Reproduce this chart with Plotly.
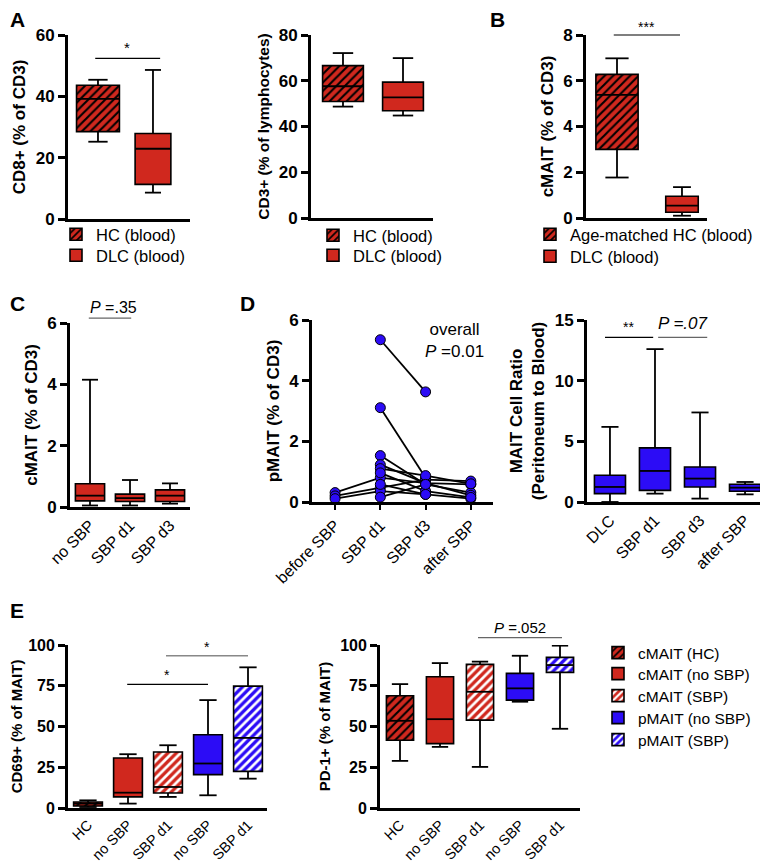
import plotly.graph_objects as go

# the page body keeps its default 8px margin, so the figure is drawn 8px in
# from the top-left corner of the 768x862 window
PAD = 8
W, H = 768 - PAD, 862 - PAD
RED = "#d0281e"
BLUE = "#2c0cf6"
FONT = "Liberation Sans, Arial, Helvetica, sans-serif"

# ---- values ----
# A left: CD8+ (% of CD3)
cd8_names = ["HC (blood)", "DLC (blood)"]
cd8_low = [25.2, 8.6]
cd8_q1 = [28.5, 11.3]
cd8_med = [39.2, 22.9]
cd8_q3 = [43.6, 27.9]
cd8_high = [45.4, 48.6]

# A right: CD3+ (% of lymphocytes)
cd3_names = ["HC (blood)", "DLC (blood)"]
cd3_low = [48.7, 44.8]
cd3_q1 = [50.9, 46.9]
cd3_med = [57.6, 52.7]
cd3_q3 = [66.6, 59.4]
cd3_high = [72.1, 69.9]

# B: cMAIT (% of CD3)
cm_names = ["Age-matched HC (blood)", "DLC (blood)"]
cm_low = [1.77, 0.1]
cm_q1 = [3.0, 0.25]
cm_med = [5.38, 0.54]
cm_q3 = [6.28, 0.95]
cm_high = [6.98, 1.35]

# C: cMAIT by SBP status
c_cats = ["no SBP", "SBP d1", "SBP d3"]
c_low = [0.05, 0.05, 0.11]
c_q1 = [0.2, 0.18, 0.18]
c_med = [0.37, 0.29, 0.37]
c_q3 = [0.76, 0.42, 0.56]
c_high = [4.15, 0.88, 0.77]

# D left: paired pMAIT per patient (None = no sample)
d_cats = ["before SBP", "SBP d1", "SBP d3", "after SBP"]
pm_before = [None, None, 0.31, 0.2, 0.11, None, None, None, None, None, None]
pm_d1 = [5.35, 3.11, 0.8, 0.48, 0.36, 1.53, 1.23, 1.1, 0.96, 0.58, 0.16]
pm_d3 = [3.63, 0.8, 0.62, 0.74, 0.25, 0.58, 0.62, 0.87, 0.36, 0.25, 0.58]
pm_after = [None, None, 0.58, 0.69, 0.11, 0.31, 0.22, 0.6, 0.15, None, None]

# D right: MAIT cell ratio (peritoneum to blood)
r_cats = ["DLC", "SBP d1", "SBP d3", "after SBP"]
r_low = [0.0, 0.69, 0.28, 0.63]
r_q1 = [0.69, 0.96, 1.24, 0.88]
r_med = [1.24, 2.56, 1.93, 1.18]
r_q3 = [2.2, 4.46, 2.89, 1.46]
r_high = [6.19, 12.6, 7.38, 1.65]

# E: activation markers
e_cats = ["HC", "no SBP", "SBP d1", "no SBP", "SBP d1"]
e_names = ["cMAIT (HC)", "cMAIT (no SBP)", "cMAIT (SBP)", "pMAIT (no SBP)", "pMAIT (SBP)"]
cd69_low = [0.6, 2.7, 6.8, 7.8, 18.0]
cd69_q1 = [1.2, 6.8, 9.2, 20.5, 22.5]
cd69_med = [2.7, 9.4, 12.9, 27.3, 43.0]
cd69_q3 = [3.7, 30.7, 34.4, 44.9, 74.8]
cd69_high = [4.7, 33.0, 38.5, 66.2, 86.3]
pd1_low = [28.9, 37.5, 25.2, 65.2, 48.6]
pd1_q1 = [41.6, 39.5, 53.9, 66.2, 83.2]
pd1_med = [53.5, 54.5, 71.3, 73.4, 87.7]
pd1_q3 = [68.9, 80.5, 88.1, 82.6, 92.4]
pd1_high = [76.0, 88.9, 89.8, 93.4, 99.6]

# fill colour, hatch colour
STYLES = {"dark": (RED, "black"), "red": (RED, None), "light": (RED, "white"),
          "blue": (BLUE, None), "bluelight": (BLUE, "white")}

# subplot frames in window pixels (left, top, right, bottom)
panels = {
    1: dict(box=(68, 35, 190, 219), xr=(-0.545, 1.673), ytop=60, dtick=20,
            title="CD8+ (% of CD3)", tsize=17, fsize=17),
    2: dict(box=(311, 35, 433, 218), xr=(-0.533, 1.5), ytop=80, dtick=20,
            title="CD3+ (% of lymphocytes)", tsize=15.5, fsize=17),
    3: dict(box=(586, 35, 707, 218), xr=(-0.477, 1.385), ytop=8, dtick=2,
            title="cMAIT (% of CD3)", tsize=17, fsize=17),
    4: dict(box=(70, 323, 190, 507), xr=(-0.5, 2.5), ytop=6, dtick=2,
            title="cMAIT (% of CD3)", tsize=17, fsize=17, cats=c_cats, csize=16),
    5: dict(box=(312, 320, 493, 502), xr=(-0.51, 3.49), ytop=6, dtick=2,
            title="pMAIT (% of CD3)", tsize=17, fsize=17, cats=d_cats, csize=16, xticks=True),
    6: dict(box=(587, 320, 768, 502), xr=(-0.51, 3.51), ytop=15, dtick=5,
            title="MAIT Cell Ratio<br>(Peritoneum to Blood)", tsize=17, fsize=17, cats=r_cats, csize=16),
    7: dict(box=(68, 645, 267, 808), xr=(-0.5, 4.475), ytop=100, dtick=25,
            title="CD69+ (% of MAIT)", tsize=15, fsize=16, cats=e_cats, csize=14.5),
    8: dict(box=(380, 645, 580, 808), xr=(-0.5, 4.5), ytop=100, dtick=25,
            title="PD-1+ (% of MAIT)", tsize=15, fsize=16, cats=e_cats, csize=14.5),
}


def fx(px):
    return (px - PAD) / W


def fy(py):
    return 1 - (py - PAD) / H


fig = go.Figure()
legends = {}


def ax(n):
    return ("x", "y") if n == 1 else (f"x{n}", f"y{n}")


def py(n, v):
    # data value -> paper y for subplot n
    l, t, r, b = panels[n]["box"]
    return fy(b - (b - t) * v / panels[n]["ytop"])


def legend_rows(icon_x, rows_y, size):
    # one single-entry legend per row so the row spacing follows the reference
    ids = []
    for y in rows_y:
        k = len(legends) + 1
        lid = "legend" if k == 1 else f"legend{k}"
        legends[lid] = dict(bgcolor="rgba(0,0,0,0)", xanchor="left", yanchor="top",
                            x=fx(icon_x - 18), y=fy(y - 17), itemclick=False,
                            itemdoubleclick=False, font=dict(size=size, family=FONT, color="black"))
        ids.append(lid)
    return ids


def add_boxes(n, low, q1, med, q3, high, styles, widths, cap=0.5, names=None, leg_ids=None):
    xa, ya = ax(n)
    for i in range(len(med)):
        fill, fg = STYLES[styles[i]]
        if fg:
            pat = dict(shape="/", fgcolor=fg, fgopacity=1, fillmode="overlay", size=6,
                       solidity=0.35 if fg == "black" else 0.45)
        else:
            pat = dict(shape="")
        extra = dict(name=names[i], showlegend=True, legend=leg_ids[i]) if names else dict(showlegend=False)
        fig.add_trace(go.Bar(
            x=[i], y=[q3[i] - q1[i]], base=[q1[i]], width=widths[i],
            marker=dict(color=fill, line=dict(color="black", width=1.6), pattern=pat),
            xaxis=xa, yaxis=ya, hoverinfo="skip", **extra))
    wx, wy, mx, my = [], [], [], []
    for i in range(len(med)):
        c = widths[i] * cap / 2
        h = widths[i] / 2
        wx += [i, i, None, i - c, i + c, None, i, i, None, i - c, i + c, None]
        wy += [q3[i], high[i], None, high[i], high[i], None,
               q1[i], low[i], None, low[i], low[i], None]
        mx += [i - h, i + h, None]
        my += [med[i], med[i], None]
    fig.add_trace(go.Scatter(x=wx, y=wy, mode="lines", line=dict(color="black", width=1.8),
                             showlegend=False, xaxis=xa, yaxis=ya, hoverinfo="skip"))
    fig.add_trace(go.Scatter(x=mx, y=my, mode="lines", line=dict(color="black", width=1.8),
                             showlegend=False, xaxis=xa, yaxis=ya, hoverinfo="skip"))


add_boxes(1, cd8_low, cd8_q1, cd8_med, cd8_q3, cd8_high, ["dark", "red"], [0.78, 0.65],
          cap=0.45, names=cd8_names, leg_ids=legend_rows(74, [234, 255], 16.5))
add_boxes(2, cd3_low, cd3_q1, cd3_med, cd3_q3, cd3_high, ["dark", "red"], [0.68, 0.68],
          cap=0.5, names=cd3_names, leg_ids=legend_rows(331, [235, 255], 16.5))
add_boxes(3, cm_low, cm_q1, cm_med, cm_q3, cm_high, ["dark", "red"], [0.65, 0.5],
          cap=0.55, names=cm_names, leg_ids=legend_rows(548, [234, 256], 16.5))
add_boxes(4, c_low, c_q1, c_med, c_q3, c_high, ["red"] * 3, [0.73] * 3, cap=0.55)
add_boxes(6, r_low, r_q1, r_med, r_q3, r_high, ["blue"] * 4, [0.69] * 4, cap=0.55)
e_styles = ["dark", "red", "light", "blue", "bluelight"]
add_boxes(7, cd69_low, cd69_q1, cd69_med, cd69_q3, cd69_high, e_styles, [0.72] * 5,
          cap=0.6, names=e_names, leg_ids=legend_rows(616, [653, 674, 696, 718, 740], 15.5))
add_boxes(8, pd1_low, pd1_q1, pd1_med, pd1_q3, pd1_high, e_styles, [0.68] * 5, cap=0.6)

# D left: paired lines then points on top
lx, ly, px_, py_ = [], [], [], []
for vals in zip(pm_before, pm_d1, pm_d3, pm_after):
    lx += [0, 1, 2, 3, None]
    ly += list(vals) + [None]
    for k, v in enumerate(vals):
        if v is not None:
            px_.append(k)
            py_.append(v)
fig.add_trace(go.Scatter(x=lx, y=ly, mode="lines", connectgaps=False,
                         line=dict(color="black", width=1.8), showlegend=False,
                         xaxis="x5", yaxis="y5", hoverinfo="skip"))
fig.add_trace(go.Scatter(x=px_, y=py_, mode="markers",
                         marker=dict(color=BLUE, size=10, line=dict(color="black", width=1)),
                         showlegend=False, xaxis="x5", yaxis="y5", hoverinfo="skip"))

layout = dict(width=W, height=H, margin=dict(l=0, r=0, t=0, b=0, autoexpand=False),
              plot_bgcolor="white", paper_bgcolor="white", barmode="overlay",
              font=dict(family=FONT, color="black"), showlegend=True)

for n, p in panels.items():
    l, t, r, b = p["box"]
    sfx = "" if n == 1 else str(n)
    xa, ya = ax(n)
    xd = dict(domain=[fx(l), min(fx(r), 1)], range=list(p["xr"]), anchor=ya, showgrid=False,
              zeroline=False, showline=True, linecolor="black", linewidth=2.8, fixedrange=True)
    if "cats" in p:
        xd.update(tickmode="array", tickvals=list(range(len(p["cats"]))), ticktext=p["cats"],
                  tickangle=-45, tickfont=dict(size=p["csize"], family=FONT, color="black"))
        if p.get("xticks"):
            xd.update(ticks="outside", ticklen=5, tickwidth=2, tickcolor="black")
        else:
            xd.update(ticks="")
    else:
        xd.update(showticklabels=False, ticks="")
    yd = dict(domain=[fy(b), fy(t)], range=[0, p["ytop"]], anchor=xa, showgrid=False,
              zeroline=False, showline=True, linecolor="black", linewidth=2.8,
              ticks="outside", ticklen=7, tickwidth=2.5, tickcolor="black",
              tickmode="linear", tick0=0, dtick=p["dtick"], fixedrange=True,
              tickfont=dict(size=p["fsize"], family=FONT, color="black", weight="bold"),
              title=dict(text=p["title"], standoff=6,
                         font=dict(size=p["tsize"], family=FONT, color="black", weight="bold")))
    layout["xaxis" + sfx] = xd
    layout["yaxis" + sfx] = yd

layout.update(legends)
fig.update_layout(**layout)


def sig(n, x0, x1, v, color="black", width=1.2):
    xa, _ = ax(n)
    fig.add_shape(type="line", xref=xa, yref="paper", x0=x0, x1=x1, y0=py(n, v), y1=py(n, v),
                  line=dict(color=color, width=width))


def note(n, x, v, text, size=15, xanchor="center", yanchor="middle"):
    xa, _ = ax(n)
    fig.add_annotation(xref=xa, yref="paper", x=x, y=py(n, v), text=text, showarrow=False,
                       xanchor=xanchor, yanchor=yanchor,
                       font=dict(size=size, family=FONT, color="black"))


sig(1, -0.05, 1.13, 52.4)
note(1, 0.53, 56.0, "*", size=15)
sig(3, -0.05, 0.97, 8.0)
note(3, 0.46, 8.35, "***", size=14)
sig(4, -0.03, 1.03, 6.16, color="#666")
note(4, 0.58, 6.5, "<i>P</i> =.35", size=16)
note(5, 3.33, 6.05, "overall<br><i>P</i> =0.01", size=17, xanchor="right", yanchor="top")
sig(6, -0.11, 0.96, 13.57)
note(6, 0.42, 14.45, "**", size=14)
sig(6, 1.07, 2.16, 13.57, color="#666")
note(6, 1.62, 14.75, "<i>P =.07</i>", size=17)
sig(7, 0.98, 3.0, 75.8)
note(7, 1.98, 81.3, "*", size=14)
sig(7, 1.95, 4.0, 93.4, color="#888", width=1.5)
note(7, 2.98, 99.0, "*", size=14)
sig(8, 1.95, 4.05, 104.5, color="#666")
note(8, 3.0, 110.5, "<i>P</i> =.052", size=15)

# panel letters (the top row sits just under the page margin)
for letter, x, y in [("A", 8, 19), ("B", 488, 19), ("C", 8, 303), ("D", 238, 303), ("E", 8, 610)]:
    fig.add_annotation(xref="paper", yref="paper", x=fx(x), y=fy(y), text=letter,
                       showarrow=False, xanchor="left", yanchor="middle",
                       font=dict(size=21, family=FONT, color="black", weight="bold"))

fig.write_html("out.html")
